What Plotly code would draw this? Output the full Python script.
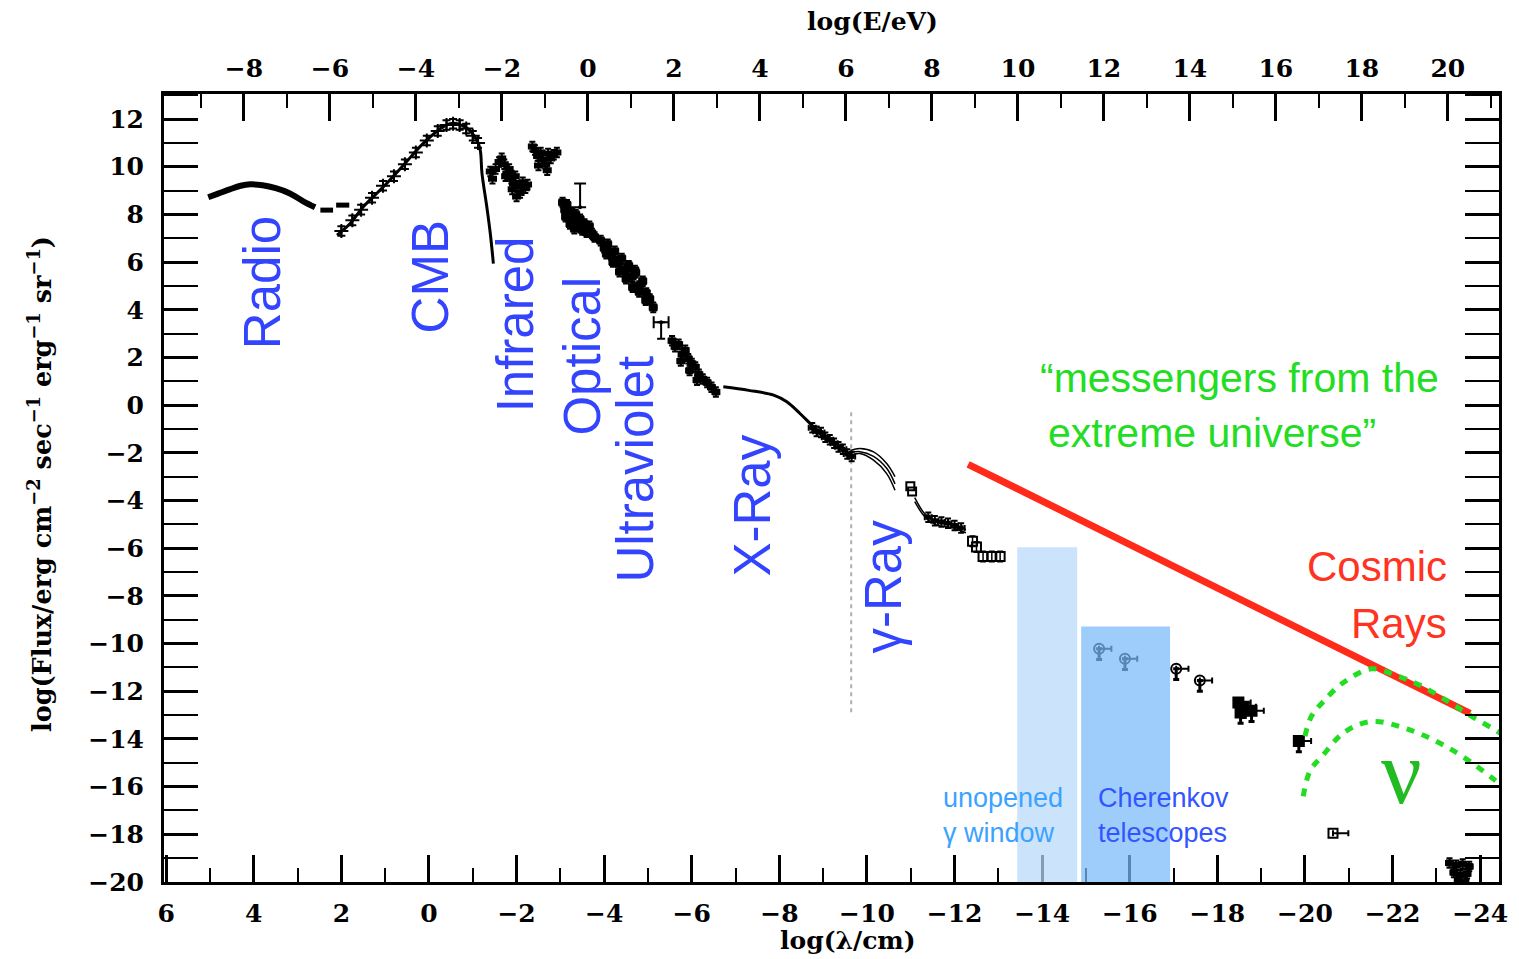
import plotly.graph_objects as go

# ---------------- data (log lambda [cm], log flux) ----------------
radio_lam = [5.04, 4.80, 4.55, 4.30, 4.08, 3.80, 3.50, 3.20, 2.87, 2.60]
radio_flux = [8.72, 8.88, 9.05, 9.20, 9.26, 9.22, 9.10, 8.90, 8.55, 8.30]
radio_dash_lam = [2.48, 2.19, None, 2.12, 1.82]
radio_dash_flux = [8.18, 8.18, None, 8.39, 8.39]

cmb_lam = [2.10, 1.80, 1.50, 1.04, 0.58, 0.13, -0.33, -0.56, -0.87, -1.09, -1.17, -1.21, -1.32, -1.40, -1.47]
cmb_flux = [7.13, 7.62, 8.32, 9.16, 10.07, 10.98, 11.68, 11.82, 11.61, 11.12, 10.70, 9.72, 8.32, 7.20, 5.94]
cmb_pts_lam = [2.0, 1.75, 1.55, 1.3, 1.05, 0.8, 0.55, 0.3, 0.05, -0.2, -0.4, -0.55, -0.7, -0.85, -1.0, -1.12]
cmb_pts_flux = [7.3, 7.75, 8.2, 8.7, 9.2, 9.6, 10.1, 10.6, 11.1, 11.5, 11.75, 11.8, 11.75, 11.6, 11.3, 11.0]

ir1_lam = [-1.40, -1.45, -1.52, -1.60, -1.66, -1.72, -1.78, -1.83, -1.88, -1.93, -1.97, -2.02, -2.08, -2.14, -2.20, -2.25, -1.75, -1.90, -2.00, -1.85]
ir1_flux = [9.80, 9.50, 9.90, 10.20, 10.35, 10.10, 9.70, 9.90, 9.50, 9.30, 9.60, 9.20, 8.90, 9.35, 9.10, 9.25, 9.60, 9.05, 8.75, 9.75]
ir2_lam = [-2.36, -2.42, -2.48, -2.55, -2.60, -2.66, -2.72, -2.78, -2.85, -2.92, -2.50, -2.70]
ir2_flux = [10.85, 10.70, 10.45, 10.60, 10.30, 10.10, 10.55, 10.35, 10.50, 10.60, 10.05, 9.85]

opt_lam = [-3.05, -3.10, -3.15, -3.20, -3.25, -3.30, -3.35, -3.40, -3.45, -3.50, -3.55, -3.60, -3.66, -3.72, -3.78, -3.12, -3.22, -3.32]
opt_flux = [8.50, 8.20, 8.40, 7.90, 8.10, 7.70, 8.00, 7.50, 7.80, 7.35, 7.60, 7.25, 7.50, 7.20, 7.05, 7.90, 7.60, 7.40]
opt_bar_lam = [-3.45]
opt_bar_flux = [8.30]
opt_bar_up = [1.00]

uv_lam = [-3.92, -4.00, -4.08, -4.16, -4.24, -4.32, -4.40, -4.48, -4.56, -4.64, -4.72, -4.80, -4.88, -4.96, -5.04, -5.12, -4.05, -4.20, -4.35, -4.50, -4.65, -4.80, -4.95, -4.70]
uv_flux = [6.90, 6.60, 6.75, 6.30, 6.45, 6.00, 6.15, 5.70, 5.85, 5.40, 5.55, 5.00, 5.20, 4.70, 4.45, 4.10, 6.35, 6.00, 5.60, 5.30, 4.95, 4.75, 4.40, 5.65]
euv_bar_lam = [-5.30]
euv_bar_flux = [3.48]

uvx_lam = [-5.55, -5.62, -5.70, -5.78, -5.85, -5.92, -6.00, -6.08, -6.16, -6.25, -6.35, -6.45, -6.55, -5.75, -5.95, -6.12]
uvx_flux = [2.70, 2.45, 2.55, 2.15, 2.30, 1.95, 1.75, 1.60, 1.30, 1.10, 0.95, 0.75, 0.55, 1.85, 1.45, 1.05]

xray_lam = [-6.72, -7.30, -7.87, -8.17, -8.47, -8.78, -9.08, -9.39, -9.62]
xray_flux = [0.77, 0.62, 0.42, 0.14, -0.35, -0.91, -1.40, -1.75, -2.10]
xray_pts_lam = [-8.75, -8.85, -8.95, -9.05, -9.15, -9.25, -9.35, -9.45, -9.55, -9.65]
xray_pts_flux = [-0.95, -1.10, -1.15, -1.35, -1.45, -1.60, -1.75, -1.85, -2.05, -2.15]

gam1_lam = [-9.62, -9.84, -10.15, -10.45, -10.64]
gam1_flux = [-1.90, -1.82, -1.96, -2.45, -3.00]
gam2_lam = [-9.62, -9.84, -10.15, -10.45, -10.64]
gam2_flux = [-2.00, -1.95, -2.15, -2.65, -3.30]
gam3_lam = [-9.62, -9.84, -10.15, -10.45, -10.64]
gam3_flux = [-2.10, -2.03, -2.31, -2.87, -3.57]

egret_lam = [-10.99, -11.03]
egret_flux = [-3.40, -3.62]
gam4_lam = [-11.09, -11.33, -11.58, -11.97, -12.26]
gam4_flux = [-3.88, -4.58, -4.87, -5.00, -5.22]
gam5_lam = [-11.09, -11.33, -11.58, -11.97, -12.26]
gam5_flux = [-4.05, -4.70, -5.02, -5.15, -5.35]
gam_pts_lam = [-11.40, -11.55, -11.70, -11.85, -12.00, -12.15]
gam_pts_flux = [-4.70, -4.85, -4.90, -4.95, -5.05, -5.15]
sq_lam = [-12.41, -12.50, -12.65, -12.85, -13.04]
sq_flux = [-5.71, -5.95, -6.35, -6.35, -6.35]

tev_lam = [-15.30, -15.89]
tev_flux = [-10.22, -10.64]
uhe_lam = [-17.06, -17.60]
uhe_flux = [-11.06, -11.55]
pev_lam = [-18.48, -18.53, -18.78, -18.60]
pev_flux = [-12.47, -12.89, -12.82, -12.65]
eev_lam = [-19.86]
eev_flux = [-14.09]
zev_lam = [-20.64]
zev_flux = [-17.96]
top_lam = [-23.30, -23.45, -23.60, -23.75, -23.40, -23.55, -23.70, -23.50, -23.65]
top_flux = [-19.20, -19.30, -19.25, -19.35, -19.60, -19.70, -19.65, -19.95, -20.00]

cr_lam = [-12.31, -23.77]
cr_flux = [-2.48, -12.93]

nu_up_lam = [-20.00, -20.15, -20.40, -20.88, -21.52, -22.10, -22.63, -23.20, -23.77, -24.43, -24.89]
nu_up_flux = [-13.88, -13.04, -12.47, -11.63, -11.06, -11.35, -11.75, -12.35, -13.01, -13.72, -14.27]
nu_lo_lam = [-19.96, -20.12, -20.39, -20.89, -21.51, -22.36, -23.34, -24.32, -24.89]
nu_lo_flux = [-16.41, -15.32, -14.73, -13.73, -13.27, -13.60, -14.44, -15.70, -16.58]

# windows (log lambda range, top flux)
window_unopened = [-13.43, -14.80, -5.96]
window_cherenkov = [-14.89, -16.92, -9.28]
gamma_split = [-9.64, -0.30, -13.00]

# axes
lam_range = [6.05, -24.43]
e_range = [-9.86, 21.19]
flux_range = [-20.0, 13.05]
e_ticks = list(range(-8, 21, 2))

band_labels = ["Radio", "CMB", "Infrared", "Optical", "Ultraviolet", "X-Ray", "γ-Ray"]
band_lam = [3.81, -0.03, -1.97, -3.50, -4.71, -7.38, -10.37]
band_flux = [5.12, 5.37, 3.40, 2.05, -2.69, -4.20, -7.60]

# ---------------- figure ----------------
fig = go.Figure()
BLK = "black"
PX_L, PX_B, PW, PH = 164, 882, 1335, 788


def px(xp, yp):
    return (xp - PX_L) / PW, (PX_B - yp) / PH


def clump(xs, ys, size=6):
    fig.add_trace(go.Scatter(
        x=xs, y=ys, mode="markers",
        marker=dict(symbol="square", size=size, color=BLK),
        error_x=dict(type="constant", value=0.08, color=BLK, thickness=2, width=3),
        error_y=dict(type="constant", value=0.2, color=BLK, thickness=2, width=3),
        hoverinfo="skip"))


# radio
fig.add_trace(go.Scatter(x=radio_lam, y=radio_flux, mode="lines", line=dict(color=BLK, width=6, shape="spline")))
fig.add_trace(go.Scatter(x=radio_dash_lam, y=radio_dash_flux, mode="lines", line=dict(color=BLK, width=5)))
# cmb
fig.add_trace(go.Scatter(x=cmb_lam, y=cmb_flux, mode="lines", line=dict(color=BLK, width=3, shape="spline")))
fig.add_trace(go.Scatter(x=cmb_pts_lam, y=cmb_pts_flux, mode="markers",
                         marker=dict(symbol="cross-thin", size=10, color=BLK, line=dict(width=2, color=BLK)),
                         error_y=dict(type="constant", value=0.2, color=BLK, thickness=2, width=4)))
clump(ir1_lam, ir1_flux)
clump(ir2_lam, ir2_flux)
clump(opt_lam, opt_flux, 8)
fig.add_trace(go.Scatter(x=opt_bar_lam, y=opt_bar_flux, mode="markers", marker=dict(size=4, color=BLK),
                         error_y=dict(type="data", array=opt_bar_up, arrayminus=[0], symmetric=False,
                                      color=BLK, thickness=2, width=6)))
clump(uv_lam, uv_flux, 8)
fig.add_trace(go.Scatter(x=euv_bar_lam, y=euv_bar_flux, mode="markers", marker=dict(size=4, color=BLK),
                         error_x=dict(type="constant", value=0.17, color=BLK, thickness=2, width=6),
                         error_y=dict(type="data", array=[0], arrayminus=[0.7], symmetric=False,
                                      color=BLK, thickness=2, width=4)))
clump(uvx_lam, uvx_flux, 7)
# x-ray
fig.add_trace(go.Scatter(x=xray_lam, y=xray_flux, mode="lines", line=dict(color=BLK, width=3, shape="spline")))
clump(xray_pts_lam, xray_pts_flux, 5)
for gl, gf in [(gam1_lam, gam1_flux), (gam2_lam, gam2_flux), (gam3_lam, gam3_flux),
               (gam4_lam, gam4_flux), (gam5_lam, gam5_flux)]:
    fig.add_trace(go.Scatter(x=gl, y=gf, mode="lines", line=dict(color=BLK, width=1.5, shape="spline")))
clump(gam_pts_lam, gam_pts_flux, 5)
fig.add_trace(go.Scatter(x=egret_lam, y=egret_flux, mode="markers",
                         marker=dict(symbol="square-open", size=8, color=BLK, line=dict(width=2, color=BLK))))
fig.add_trace(go.Scatter(x=sq_lam, y=sq_flux, mode="markers",
                         marker=dict(symbol="square-open", size=9, color=BLK, line=dict(width=2, color=BLK)),
                         error_y=dict(type="constant", value=0.22, color=BLK, thickness=1.5, width=3)))


def uplim(xs, ys, sym="circle-open", n=1):
    fig.add_trace(go.Scatter(
        x=xs, y=ys, mode="markers",
        marker=dict(symbol=sym, size=10, color=BLK, line=dict(width=2, color=BLK)),
        error_x=dict(type="data", array=[0] * n, arrayminus=[0.28] * n, symmetric=False,
                     color=BLK, thickness=2, width=3),
        error_y=dict(type="data", array=[0] * n, arrayminus=[0.45] * n, symmetric=False,
                     color=BLK, thickness=3, width=3)))


uplim(tev_lam, tev_flux, n=2)
uplim(uhe_lam, uhe_flux, n=2)
uplim(pev_lam, pev_flux, sym="square", n=4)
uplim(eev_lam, eev_flux, sym="square", n=1)
fig.add_trace(go.Scatter(x=zev_lam, y=zev_flux, mode="markers",
                         marker=dict(symbol="square-open", size=9, color=BLK, line=dict(width=2, color=BLK)),
                         error_x=dict(type="data", array=[0], arrayminus=[0.35], symmetric=False,
                                      color=BLK, thickness=2, width=3)))
clump(top_lam, top_flux, 7)

# cosmic rays and neutrinos
fig.add_trace(go.Scatter(x=cr_lam, y=cr_flux, mode="lines", line=dict(color="#ff2a1a", width=7)))
for nl, nf in [(nu_up_lam, nu_up_flux), (nu_lo_lam, nu_lo_flux)]:
    fig.add_trace(go.Scatter(x=nl, y=nf, mode="lines",
                             line=dict(color="#22dd22", width=5, dash="8px,8px", shape="spline")))

# dummy trace for the energy axis
fig.add_trace(go.Scatter(x=e_ticks, y=[None] * len(e_ticks), xaxis="x2", mode="markers",
                         showlegend=False, hoverinfo="skip"))

# windows
fig.add_shape(type="rect", xref="x", yref="y", x0=window_unopened[0], x1=window_unopened[1],
              y0=flux_range[0], y1=window_unopened[2], fillcolor="rgba(185,218,250,0.72)",
              line=dict(width=0), layer="above")
fig.add_shape(type="rect", xref="x", yref="y", x0=window_cherenkov[0], x1=window_cherenkov[1],
              y0=flux_range[0], y1=window_cherenkov[2], fillcolor="rgba(120,185,250,0.72)",
              line=dict(width=0), layer="above")
fig.add_shape(type="line", xref="x", yref="y", x0=gamma_split[0], x1=gamma_split[0],
              y0=gamma_split[1], y1=gamma_split[2], line=dict(color="#b0b0b0", width=2, dash="4px,4px"),
              layer="below")

SANS = "Liberation Sans, Arial, sans-serif"
SERIF = "DejaVu Serif, serif"

for t, lx, ly in zip(band_labels, band_lam, band_flux):
    fig.add_annotation(x=lx, y=ly, xref="x", yref="y", text=t, textangle=-90, showarrow=False,
                       xanchor="center", yanchor="middle",
                       font=dict(family=SANS, size=51, color="#3344ff"))


def label(xp, yp, text, size, color, xanchor="left", family=SANS, align="left", **kw):
    ax, ay = px(xp, yp)
    fig.add_annotation(x=ax, y=ay, xref="paper", yref="paper", text=text, showarrow=False,
                       xanchor=xanchor, yanchor="middle", align=align,
                       font=dict(family=family, size=size, color=color, **kw))


label(1038, 378, "“messengers from the", 41, "#22dd22")
label(1046, 433, "extreme universe”", 41, "#22dd22")
label(1449, 566, "Cosmic", 42, "#ff3322", xanchor="right")
label(1449, 623, "Rays", 42, "#ff3322", xanchor="right")
label(941, 815, "unopened<br>γ window", 27, "#3ba3ff")
label(1096, 815, "Cherenkov<br>telescopes", 27, "#3355ff")
label(1401, 772, "ν", 90, "#22bb22", xanchor="center", family="Liberation Serif, serif")

# axis titles
ax_, ay_ = px(40, 484)
fig.add_annotation(x=ax_, y=ay_, xref="paper", yref="paper",
                   text="log(Flux/erg cm<sup>−2</sup> sec<sup>−1</sup> erg<sup>−1</sup> sr<sup>−1</sup>)",
                   textangle=-90, showarrow=False, xanchor="center", yanchor="middle",
                   font=dict(family=SERIF, size=25.5, color=BLK, weight="bold"))
label(848, 940, "log(λ/cm)", 25, BLK, xanchor="center", family=SERIF, weight="bold")
label(872, 22, "log(E/eV)", 25, BLK, xanchor="center", family=SERIF, weight="bold")

tickfont = dict(family=SERIF, size=25, color=BLK, weight="bold")
fig.update_layout(
    width=1519, height=959,
    margin=dict(l=164, r=20, t=94, b=77),
    plot_bgcolor="white", paper_bgcolor="white",
    showlegend=False,
    xaxis=dict(range=lam_range, tick0=0, dtick=2, ticks="inside", ticklen=27, tickwidth=3,
               tickcolor=BLK, showline=True, linecolor=BLK, linewidth=3, showgrid=False,
               zeroline=False, tickfont=tickfont, ticklabelstandoff=7,
               minor=dict(dtick=1, ticks="inside", ticklen=14, tickwidth=2, tickcolor=BLK, showgrid=False)),
    xaxis2=dict(range=e_range, overlaying="x", side="top", tick0=0, dtick=2, ticks="inside",
                ticklen=27, tickwidth=3, tickcolor=BLK, showline=True, linecolor=BLK, linewidth=3,
                showgrid=False, zeroline=False, tickfont=tickfont, ticklabelstandoff=4,
                minor=dict(dtick=1, ticks="inside", ticklen=14, tickwidth=2, tickcolor=BLK, showgrid=False)),
    yaxis=dict(range=flux_range, tick0=0, dtick=2, ticks="inside", ticklen=34, tickwidth=3,
               tickcolor=BLK, showline=True, linecolor=BLK, linewidth=3, mirror="allticks",
               showgrid=False, zeroline=False, tickfont=tickfont, ticklabelstandoff=12,
               minor=dict(dtick=1, ticks="inside", ticklen=16, tickwidth=2, tickcolor=BLK, showgrid=False)),
)

fig.write_html("out.html")
